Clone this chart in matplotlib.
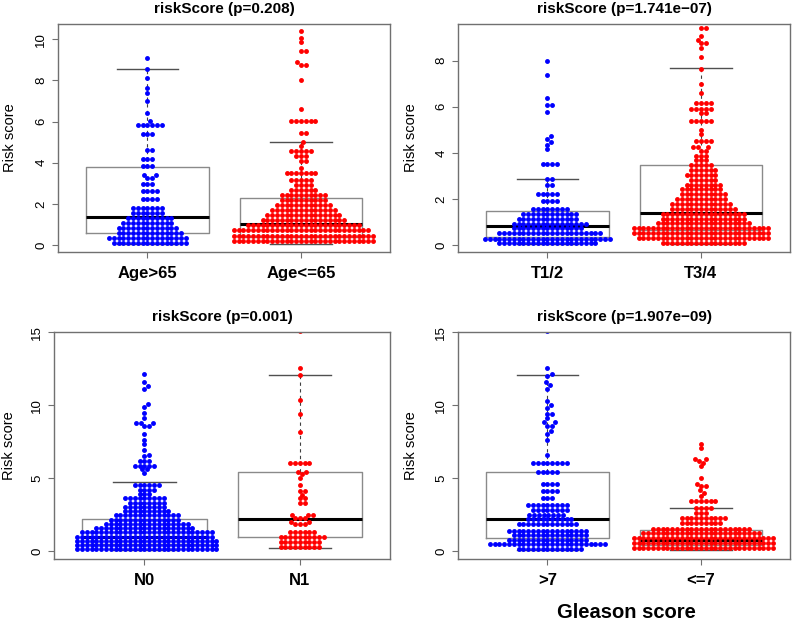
import numpy as np
import matplotlib
matplotlib.use("Agg")
import matplotlib.pyplot as plt

plt.rcParams['font.family'] = ['Liberation Sans', 'DejaVu Sans']

### risk score values: each level with the number of dots on it
age_gt65_lv = [0.1, 0.35, 0.6, 0.84, 1.08, 1.32, 1.55, 1.8, 2.25, 2.65, 2.95, 3.28, 3.42, 3.86,
               4.2, 4.6, 5.38, 5.85, 6.03, 6.4, 7.0, 7.37, 7.65, 8.13, 8.56, 9.07]
age_gt65_n = [16, 17, 14, 13, 11, 10, 7, 7, 4, 4, 3, 2, 2, 3, 3, 2, 3, 6, 1, 1, 1, 1, 1, 1, 1, 1]

age_le65_lv = [0.2, 0.46, 0.72, 0.98, 1.22, 1.46, 1.7, 1.94, 2.18, 2.42, 2.66, 2.9, 3.18, 3.5, 3.74,
               4.1, 4.33, 4.57, 4.81, 5.0, 5.43, 6.05, 6.63, 8.04, 8.77, 8.9, 9.41, 9.85, 10.06, 10.39]
age_le65_n = [30, 30, 29, 24, 18, 16, 14, 12, 10, 10, 6, 4, 5, 7, 1, 2, 3, 5, 1, 1, 2, 6, 1, 1, 2, 1,
              2, 1, 1, 1]

t12_lv = [0.07, 0.28, 0.5, 0.72, 0.93, 1.14, 1.36, 1.57, 1.9, 2.2, 2.6, 2.88, 3.5, 4.15, 4.35, 4.45,
          4.62, 4.72, 5.76, 6.07, 6.39, 7.36, 8.0]
t12_n = [21, 27, 22, 15, 16, 13, 12, 8, 4, 5, 2, 2, 4, 1, 1, 1, 1, 1, 1, 2, 1, 1, 1]

t34_lv = [0.1, 0.31, 0.52, 0.73, 0.94, 1.15, 1.36, 1.57, 1.78, 1.99, 2.2, 2.41, 2.62, 2.83, 3.04,
          3.25, 3.46, 3.67, 3.88, 4.1, 4.25, 4.52, 4.8, 5.0, 5.4, 5.72, 5.92, 6.15, 6.61, 6.97, 7.65,
          8.16, 8.55, 8.75, 8.88, 9.07, 9.42]
t34_n = [18, 28, 29, 29, 20, 18, 18, 14, 13, 11, 10, 9, 8, 6, 7, 6, 5, 3, 3, 2, 3, 4, 1, 1, 5, 2, 5,
         4, 1, 1, 1, 1, 1, 2, 1, 1, 2]

n0_lv = [0.12, 0.41, 0.7, 0.99, 1.28, 1.57, 1.86, 2.15, 2.44, 2.73, 3.02, 3.31, 3.6, 3.9, 4.2, 4.55,
         5.35, 5.6, 5.85, 6.15, 6.5, 6.6, 6.93, 7.3, 7.6, 8.0, 8.6, 8.8, 9.1, 9.44, 9.85, 10.05, 11.1,
         11.3, 11.6, 12.14]
n0_n = [30, 30, 30, 29, 28, 21, 18, 15, 14, 10, 9, 8, 9, 3, 4, 6, 1, 2, 5, 3, 1, 1, 1, 1, 1, 1, 2, 3,
        1, 1, 1, 1, 1, 1, 1, 1]

n1_lv = [0.25, 0.6, 0.98, 1.32, 1.85, 2.0, 2.25, 2.45, 3.3, 3.6, 3.85, 4.12, 4.5, 5.0, 5.25, 5.42,
         6.05, 8.14, 9.4, 10.36, 12.07, 12.57, 15.05]
n1_n = [9, 9, 10, 6, 3, 2, 3, 3, 2, 2, 1, 2, 1, 1, 1, 2, 5, 1, 1, 1, 1, 1, 1]

gs_gt7_lv = [0.13, 0.45, 0.77, 1.07, 1.37, 1.85, 2.17, 2.45, 2.81, 3.15, 3.6, 4.1, 4.6, 5.4, 6.04,
             6.57, 7.6, 8.05, 8.2, 8.6, 8.82, 9.1, 9.4, 9.8, 10.0, 10.3, 11.1, 11.35, 11.55, 12.0,
             12.1, 12.53, 15.05]
gs_gt7_n = [14, 25, 17, 16, 17, 13, 10, 8, 8, 9, 3, 4, 4, 5, 8, 1, 1, 1, 1, 2, 2, 1, 2, 1, 1, 1, 1,
            1, 1, 1, 1, 1, 1]

gs_le7_lv = [0.18, 0.53, 0.9, 1.2, 1.51, 1.9, 2.24, 2.63, 2.93, 3.45, 3.8, 4.0, 4.15, 4.45, 4.6,
             4.98, 5.8, 6.05, 6.15, 6.3, 7.05, 7.35]
gs_le7_n = [30, 30, 30, 25, 21, 9, 10, 3, 4, 6, 1, 1, 1, 2, 1, 1, 1, 1, 1, 2, 1, 1]

### box statistics: (whisker low, q1, median, q3, whisker high)
age_stats = [(0.05, 0.58, 1.36, 3.82, 8.58), (0.05, 0.40, 1.03, 2.27, 4.99)]
t_stats = [(0.05, 0.33, 0.82, 1.49, 2.87), (0.05, 0.65, 1.40, 3.46, 7.67)]
n_stats = [(0.05, 0.45, 0.95, 2.17, 4.74), (0.18, 0.96, 2.20, 5.42, 12.06)]
gs_stats = [(0.05, 0.87, 2.17, 5.40, 12.06), (0.05, 0.40, 0.78, 1.42, 2.93)]

titles = ['riskScore (p=0.208)', 'riskScore (p=1.741e\u221207)',
          'riskScore (p=0.001)', 'riskScore (p=1.907e\u221209)']
group_labels = [['Age>65', 'Age<=65'], ['T1/2', 'T3/4'], ['N0', 'N1'], ['>7', '<=7']]

W, H = 797, 621
fig = plt.figure(figsize=(W / 100, H / 100), dpi=100)

### axes boxes in pixels: left, top, right, bottom
rects = [(58.3, 24.3, 390, 251.7), (458.3, 24.3, 790, 251.7),
         (54.3, 331.7, 390, 559.3), (458.3, 331.7, 790, 559.3)]
ylims = [(-0.32, 10.73), (-0.29, 9.58), (-0.57, 15.03), (-0.57, 15.03)]
yticks = [[0, 2, 4, 6, 8, 10], [0, 2, 4, 6, 8], [0, 5, 10, 15], [0, 5, 10, 15]]
ylabel_x = [-0.124, -0.122, -0.114, -0.122]

data = [[(age_gt65_lv, age_gt65_n), (age_le65_lv, age_le65_n)],
        [(t12_lv, t12_n), (t34_lv, t34_n)],
        [(n0_lv, n0_n), (n1_lv, n1_n)],
        [(gs_gt7_lv, gs_gt7_n), (gs_le7_lv, gs_le7_n)]]
stats = [age_stats, t_stats, n_stats, gs_stats]
colors = ['#0000ff', '#ff0000']

frame_col = '#707070'
SX, SY = 4.8, 4.2   # dot spacing in pixels, horizontal / vertical


def swarm(y_px):
    ### place each point (lowest first) at the free x offset nearest the centre
    order = np.argsort(y_px, kind='stable')
    xs = np.zeros(len(y_px))
    px, py = [], []
    for i in order:
        y = y_px[i]
        x = 0.0
        if px:
            ax_ = np.array(px) / SX
            dy = (np.array(py) - y) / SY
            near = np.abs(dy) < 1
            if near.any():
                nx, ndy = ax_[near], dy[near]
                off = np.sqrt(1 - ndy ** 2)
                cands = np.concatenate([[0.0], nx + off, nx - off])
                d2 = (cands[:, None] - nx[None, :]) ** 2 + ndy[None, :] ** 2
                ok = np.all(d2 >= 1 - 1e-6, axis=1)
                valid = cands[ok]
                x = valid[np.argmin(np.abs(valid))] * SX
        xs[i] = x
        px.append(x)
        py.append(y)
    return xs


for k in range(4):
    l, t, r, b = rects[k]
    ax = fig.add_axes([l / W, 1 - b / H, (r - l) / W, (b - t) / H])
    ax.set_xlim(0.42, 2.58)
    ax.set_ylim(*ylims[k])

    ### boxes first, dots drawn on top
    bstats = []
    for lo, q1, med, q3, hi in stats[k]:
        bstats.append({'whislo': lo, 'q1': q1, 'med': med, 'q3': q3, 'whishi': hi, 'fliers': []})
    ax.bxp(bstats, positions=[1, 2], widths=0.8, showfliers=False, zorder=1,
           boxprops=dict(color='#8a8a8a', linewidth=1.0),
           whiskerprops=dict(color='#404040', linewidth=0.8, linestyle=(0, (3, 3))),
           capprops=dict(color='#505050', linewidth=1.0),
           medianprops=dict(color='black', linewidth=2.2))

    ### beeswarm of each group
    for g, (lv, n) in enumerate(data[k]):
        vals = np.repeat(np.array(lv, dtype=float), n)
        pos = g + 1
        pts = ax.transData.transform(np.column_stack([np.full(len(vals), pos), vals]))
        off = swarm(pts[:, 1])
        x_unit = ax.transData.transform([[pos + 1, 0]])[0, 0] - pts[0, 0]
        ax.scatter(pos + off / x_unit, vals, s=12.4, color=colors[g], linewidths=0, zorder=2)

    ax.set_title(titles[k], fontsize=11, fontweight='bold', pad=8)
    ax.set_xticks([1, 2])
    ax.set_xticklabels(group_labels[k], fontsize=12, fontweight='bold')
    ax.set_yticks(yticks[k])
    ax.set_yticklabels([str(v) for v in yticks[k]], fontsize=9.5, rotation=90, va='center')
    ax.tick_params(axis='x', length=4, width=0.8, color=frame_col, pad=6)
    ax.tick_params(axis='y', length=4, width=0.8, color=frame_col, pad=4)
    ax.set_ylabel('Risk score', fontsize=10.5)
    ax.yaxis.set_label_coords(ylabel_x[k], 0.5)
    for sp in ax.spines.values():
        sp.set_color(frame_col)
        sp.set_linewidth(1.0)

fig.text(626.7 / W, 1 - 612 / H, 'Gleason score', fontsize=14.5, fontweight='bold',
         ha='center', va='center')

fig.savefig('out.png', dpi=100)
